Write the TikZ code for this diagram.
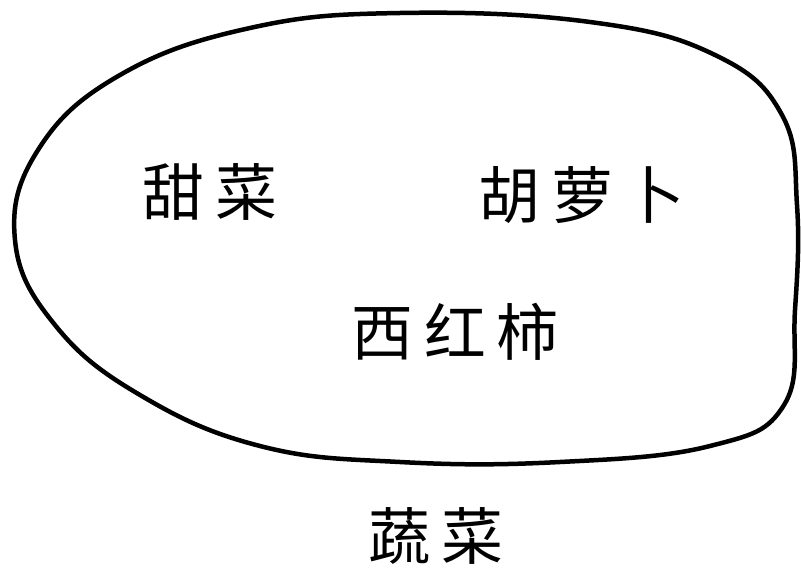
\documentclass[tikz,border=0pt]{standalone}
\usepackage{fontspec}
\newfontfamily\cjk{Noto Sans CJK SC}
\usetikzlibrary{positioning}

\begin{document}
\begin{tikzpicture}[
    x=0.025cm, y=-0.025cm,
    word/.style={font=\cjk\fontsize{44}{50}\selectfont, inner sep=0pt},
    blob/.style={line width=3.2pt, line join=round}
]
    \useasboundingbox (0,0) rectangle (801,577);

    % the set outline
    \draw[blob] plot[smooth cycle, tension=0.7] coordinates {
        (400,13) (590,22) (715,55) (782,115) (797,205) (795,310)
        (784,405) (710,446) (560,462) (400,462) (260,446) (140,395)
        (55,325) (15,240) (38,150) (120,75) (250,28)};

    % members
    \node[word] (beet) at (210,192) {甜\,菜};
    \node[word] (carrot) at (582,195) {胡\,萝\,卜};
    \node[word] (tomato) at (455,332) {西\,红\,柿};

    % set label
    \node[word] (veg) at (436,536) {蔬\,菜};
\end{tikzpicture}
\end{document}
